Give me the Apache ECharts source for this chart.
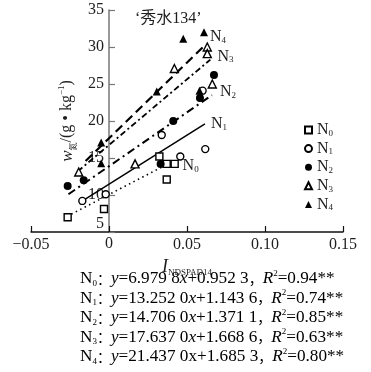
<!DOCTYPE html>
<html><head><meta charset="utf-8">
<script src="https://cdn.jsdelivr.net/npm/echarts@6/dist/echarts.min.js"></script>
<style>html,body{margin:0;padding:0;background:#fff}#c{width:371px;height:372px}</style>
</head><body><div id="c"></div>
<script>
// ---- data ----
const seriesNames = ['N0', 'N1', 'N2', 'N3', 'N4'];
const N0_x = [-0.0265, -0.0032, 0.0323, 0.0370, 0.0421, 0.0370];
const N0_y = [7.0, 8.1, 15.2, 14.2, 14.2, 12.1];
const N1_x = [-0.0171, -0.0021, 0.0338, 0.0457, 0.0617, 0.0600];
const N1_y = [9.2, 10.1, 18.1, 15.2, 16.2, 24.1];
const N2_x = [-0.0265, -0.0162, 0.0331, 0.0412, 0.0583, 0.0673];
const N2_y = [11.2, 12.0, 14.2, 20.0, 23.1, 26.2];
const N3_x = [-0.0194, 0.0167, 0.0419, 0.0630, 0.0630, 0.0662];
const N3_y = [13.1, 14.2, 27.1, 30.0, 29.1, 25.0];
const N4_x = [-0.0050, -0.0050, 0.0306, 0.0476, 0.0609, 0.0580];
const N4_y = [17.1, 14.3, 24.0, 31.1, 32.0, 24.1];
// fitted lines: start and end points
const fitX0 = [-0.027, -0.017, -0.026, -0.020, -0.015];
const fitY0 = [7.1, 9.2, 10.1, 13.2, 14.6];
const fitX1 = [0.035, 0.0615, 0.066, 0.065, 0.0622];
const fitY1 = [13.9, 19.6, 23.5, 28.3, 30.4];
// tick labels
const xTickValues = [-0.05, 0, 0.05, 0.10, 0.15];
const xTickLabels = ['\u22120.05', '0', '0.05', '0.10', '0.15'];
const yTickLabels = ['5', '10', '15', '20', '25', '30', '35'];
// equation texts
const eqSlopes = ['6.979 8', '13.252 0', '14.706 0', '17.637 0', '21.437 0'];
const eqIntercepts = ['0.952 3', '1.143 6', '1.371 1', '1.668 6', '1.685 3'];
const eqR2 = ['0.94', '0.74', '0.85', '0.63', '0.80'];
const titleText = '\u2018秀水134\u2019';

// ---- layout / styling ----
const W = 371, H = 372;
const GRID = {left: 31, right: 28, top: 10, bottom: 140};
const X_MIN = -0.05, X_MAX = 0.15;
const FONT = "'Liberation Serif','DejaVu Serif','Noto Sans CJK SC',serif";
const TXT = '#1e1e1e';
const symbols = ['rect', 'circle', 'circle', 'triangle', 'triangle'];
const symSizes = [7, 7, 8, 8, 8];
const filled = [false, false, true, false, true];
const dashes = [[1.5, 3.5], 'solid', [8, 4, 2, 4], [6, 3, 2, 3], [9, 5]];
const lineWidths = [1.6, 1.5, 2, 1.8, 2.2];
const labelOffsets = [[19, 0], [6, 0], [8, -3], [7, -3], [4, -7]];

const xs = [N0_x, N1_x, N2_x, N3_x, N4_x];
const ys = [N0_y, N1_y, N2_y, N3_y, N4_y];

const nRich = {
  n: {fontFamily: FONT, fontSize: 16, color: TXT, lineHeight: 16},
  s: {fontFamily: FONT, fontSize: 9, color: TXT, lineHeight: 16, verticalAlign: 'bottom'}
};

const scatterSeries = seriesNames.map((nm, i) => ({
  type: 'scatter', name: nm, symbol: symbols[i], symbolSize: symSizes[i],
  data: xs[i].map((x, j) => [x, ys[i][j]]),
  itemStyle: {color: filled[i] ? '#000' : '#fff', borderColor: '#000', borderWidth: filled[i] ? 0 : 1.4, opacity: 1},
  z: 4, animation: false
}));
const lineSeries = seriesNames.map((nm, i) => ({
  type: 'line', name: nm + ' fit',
  data: [[fitX0[i], fitY0[i]], [fitX1[i], fitY1[i]]],
  symbol: 'none', silent: true, z: 3, animation: false,
  lineStyle: {color: '#000', width: lineWidths[i], type: dashes[i]},
  endLabel: {show: true, distance: 0, offset: labelOffsets[i],
    formatter: '{n|N}{s|' + nm.slice(1) + '}', rich: nRich}
}));

const EQ_FS = 17.2;
const eqRich = {
  t: {fontFamily: FONT, fontSize: EQ_FS, color: TXT, lineHeight: 19},
  i: {fontFamily: FONT, fontSize: EQ_FS, fontStyle: 'italic', color: TXT, lineHeight: 19},
  s: {fontFamily: FONT, fontSize: 9, color: TXT, lineHeight: 19, verticalAlign: 'bottom'},
  p: {fontFamily: FONT, fontSize: 9, color: TXT, lineHeight: 19, verticalAlign: 'top'},
  c: {fontFamily: "'Noto Sans CJK SC'", fontSize: 14, color: TXT, lineHeight: 19}
};
const graphics = eqSlopes.map((s, i) => ({
  type: 'text', left: 80, top: 269 + i * 19.5, silent: true,
  style: {
    text: '{t|N}{s|' + i + '}{c|：}{i|y}{t|=' + s + '}' + (i === 4 ? '{t|x}' : '{i|x}') +
      '{t|+' + eqIntercepts[i] + '}{c|，}{i|R}{p|2}{t|=' + eqR2[i] + '**}',
    rich: eqRich
  }
}));

// tick label "0" (the library drops it where the y axis crosses): placed from the x scale
const zeroIdx = xTickValues.indexOf(0);
const gridW = W - GRID.left - GRID.right;
const zeroPx = GRID.left + (xTickValues[zeroIdx] - X_MIN) / (X_MAX - X_MIN) * gridW;
graphics.push({
  type: 'text', left: zeroPx - 4, top: H - GRID.bottom + 4, silent: true, z: 100, zlevel: 1,
  style: {text: xTickLabels[zeroIdx], fontFamily: FONT, fontSize: 16, fill: TXT}
});

const chart = echarts.init(document.getElementById('c'));
chart.setOption({
  animation: false,
  backgroundColor: '#fff',
  title: {text: titleText, left: 130, top: 6,
    textStyle: {fontFamily: FONT, fontSize: 16, fontWeight: 'normal', color: TXT}},
  grid: {left: GRID.left, right: GRID.right, top: GRID.top, bottom: GRID.bottom, containLabel: false, outerBoundsMode: 'none'},
  legend: {
    data: seriesNames, orient: 'vertical', left: 299, top: 117,
    itemWidth: 7, itemHeight: 7, itemGap: 2.6,
    formatter: nm => '{n|N}{s|' + nm.slice(1) + '}',
    textStyle: {fontFamily: FONT, color: TXT, rich: nRich}
  },
  xAxis: {
    type: 'value', min: X_MIN, max: X_MAX, interval: 0.05,
    axisLine: {onZero: false, lineStyle: {color: '#111', width: 1.5}},
    axisTick: {inside: true, length: 6, lineStyle: {color: '#111', width: 1.2}},
    axisLabel: {formatter: (v, idx) => (idx === zeroIdx ? '' : xTickLabels[idx]), fontFamily: FONT, fontSize: 16, color: TXT, margin: 5,
      hideOverlap: false},
    splitLine: {show: false},
    name: '{i|I}{s|NDSPAD14}', nameLocation: 'middle', nameGap: 24,
    nameTextStyle: {rich: {
      i: {fontFamily: FONT, fontSize: 18, fontStyle: 'italic', color: TXT, lineHeight: 20},
      s: {fontFamily: FONT, fontSize: 9, color: TXT, lineHeight: 20, verticalAlign: 'bottom'}
    }}
  },
  yAxis: {
    type: 'value', min: 5, max: 35, interval: 5,
    position: 'left', offset: -(zeroPx - GRID.left),
    axisLine: {onZero: false, lineStyle: {color: '#777', width: 1.5}},
    axisTick: {inside: true, length: 6, lineStyle: {color: '#777', width: 1.2}},
    axisLabel: {
      formatter: (v, idx) => idx === 0 ? '{a|' + yTickLabels[idx] + '}' : yTickLabels[idx],
      fontFamily: FONT, fontSize: 16, color: TXT, margin: 5, hideOverlap: false,
      rich: {a: {fontFamily: FONT, fontSize: 16, color: TXT, lineHeight: 16, padding: [0, 0, 16, 0]}}
    },
    splitLine: {show: false},
    name: '{i|w}{s|氮}{t|/(g • kg}{p|\u22121}{t|)}', nameLocation: 'middle', nameGap: 17,
    nameTextStyle: {rich: {
      i: {fontFamily: FONT, fontSize: 17, fontStyle: 'italic', color: TXT, lineHeight: 20},
      t: {fontFamily: FONT, fontSize: 16, color: TXT, lineHeight: 20},
      s: {fontFamily: "'Noto Sans CJK SC'", fontSize: 8, color: TXT, lineHeight: 20, verticalAlign: 'bottom'},
      p: {fontFamily: FONT, fontSize: 9, color: TXT, lineHeight: 20, verticalAlign: 'top'}
    }}
  },
  series: lineSeries.concat(scatterSeries),
  graphic: graphics
});
</script>
</body></html>
